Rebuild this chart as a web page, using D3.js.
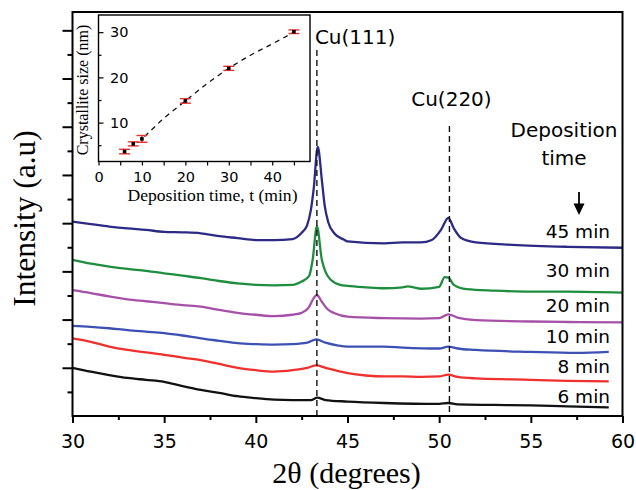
<!DOCTYPE html>
<html>
<head>
<meta charset="utf-8">
<script src="https://cdn.jsdelivr.net/npm/d3@7"></script>
<style>
  body { margin: 0; background: #fff; }
  svg { display: block; }
</style>
</head>
<body>
<svg id="chart"></svg>
<script>
// XRD patterns, [2theta (deg), intensity (a.u.)]
const xrd6 = [[30,1.00],[31,0.92],[32,0.85],[33,0.79],[34,0.75],[35,0.71],[36,0.62],[37,0.54],[38,0.48],[39,0.41],[40,0.37],[41,0.34],[42,0.33],[43,0.33],[43.35,0.38],[43.8,0.33],[45,0.30],[47,0.27],[50,0.25],[50.5,0.27],[51,0.24],[53,0.23],[55,0.22],[57,0.20],[59.25,0.18]]
const xrd8 = [[30,1.61],[31,1.54],[32,1.44],[33,1.37],[34,1.32],[35,1.27],[36,1.21],[37,1.16],[38,1.08],[39,1.00],[40,0.95],[41,0.92],[42,0.95],[42.8,1.00],[43.3,1.05],[43.8,1.00],[44.5,0.93],[45,0.89],[46,0.84],[47,0.82],[48,0.82],[49,0.81],[50,0.82],[50.5,0.86],[51,0.81],[52,0.78],[54,0.76],[55,0.75],[57,0.73],[59.25,0.72]]
const xrd10 = [[30,1.87],[31,1.85],[32,1.82],[33,1.78],[34,1.75],[35,1.72],[36,1.67],[37,1.61],[38,1.56],[39,1.51],[40,1.49],[41,1.48],[42,1.49],[42.8,1.52],[43.3,1.59],[43.8,1.52],[44.5,1.46],[45,1.44],[47,1.44],[48,1.42],[50,1.40],[50.5,1.44],[51,1.40],[52,1.37],[55,1.33],[57.5,1.31],[59.25,1.33]]
const xrd20 = [[30,2.61],[31,2.55],[32,2.48],[33,2.42],[34,2.38],[35,2.34],[36,2.30],[37,2.27],[38,2.20],[39,2.14],[40,2.10],[41,2.07],[42,2.10],[42.5,2.14],[42.9,2.26],[43.1,2.41],[43.33,2.51],[43.6,2.37],[43.9,2.22],[44.3,2.13],[45,2.06],[47,2.03],[49,2.02],[50,2.03],[50.5,2.11],[51,2.04],[52,1.99],[55,1.96],[57,1.95],[60,1.94]]
const xrd30 = [[30,3.24],[31,3.16],[32,3.10],[33,3.05],[34,3.01],[35,2.96],[36,2.91],[37,2.86],[38,2.80],[39,2.75],[40,2.72],[41,2.71],[42,2.72],[42.5,2.79],[42.9,2.90],[43.1,3.24],[43.33,3.94],[43.6,3.24],[43.8,2.99],[44.1,2.82],[44.6,2.72],[45,2.70],[46,2.67],[47,2.65],[48,2.67],[48.3,2.69],[48.6,2.67],[49,2.64],[50,2.68],[50.3,2.88],[50.5,2.87],[50.8,2.72],[51.5,2.63],[53,2.60],[55,2.58],[57,2.58],[60,2.56]]
const xrd45 = [[30,4.03],[31,3.98],[32,3.93],[33,3.89],[34,3.86],[35,3.82],[36,3.81],[37,3.79],[38,3.73],[39,3.69],[40,3.65],[41,3.65],[42,3.67],[42.5,3.80],[42.8,3.96],[43.0,4.27],[43.15,4.69],[43.38,5.58],[43.6,4.90],[43.75,4.38],[43.95,4.02],[44.3,3.78],[44.8,3.66],[45,3.62],[47,3.58],[48,3.60],[49,3.60],[49.6,3.65],[50.1,3.86],[50.5,4.11],[50.8,3.89],[51.2,3.69],[52,3.60],[54,3.55],[57,3.51],[60,3.49]]

const seriesData = [xrd6, xrd8, xrd10, xrd20, xrd30, xrd45]
const seriesNames = ['6 min', '8 min', '10 min', '20 min', '30 min', '45 min']
const seriesColors = ['#111111', '#f0302c', '#3d50b4', '#a650a8', '#1e8e3e', '#2c2a84']

// reflections
const peakNames = ['Cu(111)', 'Cu(220)']
const peakPos = [43.33, 50.56]

// inset: crystallite size vs deposition time
const depTime = [6, 8, 10, 20, 30, 45]
const crystSize = [3.6, 5.3, 6.4, 14.8, 22.0, 30.1]
const crystErr = [0.5, 0.45, 0.75, 0.5, 0.45, 0.4]
const fitTime = [10.6, 15, 20, 25, 30, 35, 40, 45]
const fitSize = [6.9, 10.9, 14.8, 18.6, 22.0, 24.9, 27.4, 30.0]

const xMajor = [30, 35, 40, 45, 50, 55, 60]
const xMinor = [32.5, 37.5, 42.5, 47.5, 52.5, 57.5]
const yMajor = [1, 2, 3, 4, 5, 6, 7, 8]
const yMinor = [0.5, 1.5, 2.5, 3.5, 4.5, 5.5, 6.5, 7.5]
const insetXMajor = [0, 10, 20, 30, 40]
const insetXMinor = [5, 15, 25, 35, 45]
const insetYMajor = [10, 20, 30]
const insetYMinor = [5, 15, 25]

// layout
const width = 636, height = 490
const m = { left: 72.5, right: 622.5, top: 12, bottom: 416 }
const labelBaselines = [403.3, 373.3, 343.3, 311.7, 276.7, 238.3]
const peakLineTops = [50, 126]
const inset = { left: 98.5, right: 310, top: 15, bottom: 161.5 }

const sans = 'DejaVu Sans, sans-serif'
const serif = 'Liberation Serif, Times New Roman, serif'

let svg = d3.select('#chart').attr('width', width).attr('height', height)

let x = d3.scaleLinear().domain([30, 60]).range([m.left, m.right])
let y = d3.scaleLinear().domain([0, 8.38]).range([m.bottom, m.top])

// axes (ticks only, frame drawn separately)
const styleAxis = (g) => {
    g.select('.domain').remove()
    g.selectAll('line').attr('stroke', '#000').attr('stroke-width', 2)
    g.selectAll('text').attr('font-family', sans).attr('fill', '#000')
}

svg.append('g')
    .attr('transform', `translate(0,${m.bottom})`)
    .call(d3.axisBottom(x).tickValues(xMajor).tickSize(7).tickPadding(12).tickFormat(d3.format('d')))
    .call(styleAxis)
    .selectAll('text').attr('font-size', 19)

svg.append('g')
    .attr('transform', `translate(0,${m.bottom})`)
    .call(d3.axisBottom(x).tickValues(xMinor).tickSize(4).tickFormat(''))
    .call(styleAxis)

svg.append('g')
    .attr('transform', `translate(${m.left},0)`)
    .call(d3.axisLeft(y).tickValues(yMajor).tickSize(10).tickFormat(''))
    .call(styleAxis)

svg.append('g')
    .attr('transform', `translate(${m.left},0)`)
    .call(d3.axisLeft(y).tickValues(yMinor).tickSize(5).tickFormat(''))
    .call(styleAxis)

// XRD traces
let line = d3.line()
    .x(d => x(d[0]))
    .y(d => y(d[1]))
    .curve(d3.curveMonotoneX)

svg.append('g').selectAll('path')
    .data(seriesData)
    .enter().append('path')
    .attr('d', line)
    .attr('fill', 'none')
    .attr('stroke', (d, i) => seriesColors[i])
    .attr('stroke-width', 2.3)
    .attr('stroke-linejoin', 'round')

svg.append('g').selectAll('text')
    .data(seriesNames)
    .enter().append('text')
    .attr('x', 610)
    .attr('y', (d, i) => labelBaselines[i])
    .attr('text-anchor', 'end')
    .attr('font-family', sans)
    .attr('font-size', 18.5)
    .text(d => d)

// reflection markers
peakPos.forEach((p, i) => {
    svg.append('line')
        .attr('x1', x(p)).attr('x2', x(p))
        .attr('y1', peakLineTops[i]).attr('y2', m.bottom)
        .attr('stroke', '#111')
        .attr('stroke-width', 1.4)
        .attr('stroke-dasharray', '6,4')
})
svg.append('text')
    .attr('x', x(peakPos[0]) - 2).attr('y', 44)
    .attr('font-family', sans).attr('font-size', 20)
    .text(peakNames[0])
svg.append('text')
    .attr('x', x(peakPos[1]) + 2).attr('y', 106)
    .attr('text-anchor', 'middle')
    .attr('font-family', sans).attr('font-size', 20)
    .text(peakNames[1])

// "Deposition time" with arrow
svg.append('text')
    .attr('x', 564).attr('y', 137.3)
    .attr('text-anchor', 'middle')
    .attr('font-family', sans).attr('font-size', 20)
    .text('Deposition')
svg.append('text')
    .attr('x', 564).attr('y', 165)
    .attr('text-anchor', 'middle')
    .attr('font-family', sans).attr('font-size', 20)
    .text('time')
svg.append('line')
    .attr('x1', 579).attr('x2', 579).attr('y1', 192).attr('y2', 205)
    .attr('stroke', '#000').attr('stroke-width', 1.8)
svg.append('path')
    .attr('d', 'M573.5,203.5 L584.5,203.5 L579,215 Z')
    .attr('fill', '#000')

// frame
svg.append('rect')
    .attr('x', m.left).attr('y', m.top)
    .attr('width', m.right - m.left).attr('height', m.bottom - m.top)
    .attr('fill', 'none').attr('stroke', '#000').attr('stroke-width', 2)

// axis titles
svg.append('text')
    .attr('x', (m.left + m.right) / 2 - 1).attr('y', 483)
    .attr('text-anchor', 'middle')
    .attr('font-family', serif).attr('font-size', 30)
    .text('2θ (degrees)')
svg.append('text')
    .attr('transform', 'translate(35,218.5) rotate(-90)')
    .attr('text-anchor', 'middle')
    .attr('font-family', serif).attr('font-size', 31.5)
    .text('Intensity (a.u)')

// ---- inset ----
let ix = d3.scaleLinear().domain([0, 48.7]).range([inset.left, inset.right])
let iy = d3.scaleLinear().domain([1.4, 33.8]).range([inset.bottom, inset.top])

let ig = svg.append('g')
ig.append('rect')
    .attr('x', inset.left).attr('y', inset.top)
    .attr('width', inset.right - inset.left).attr('height', inset.bottom - inset.top)
    .attr('fill', '#fff')

const styleInsetAxis = (g) => {
    g.select('.domain').remove()
    g.selectAll('line').attr('stroke', '#000').attr('stroke-width', 1.2)
    g.selectAll('text').attr('font-family', sans).attr('font-size', 14.5).attr('fill', '#000')
}

ig.append('g')
    .attr('transform', `translate(0,${inset.bottom})`)
    .call(d3.axisBottom(ix).tickValues(insetXMajor).tickSize(4).tickPadding(6))
    .call(styleInsetAxis)
ig.append('g')
    .attr('transform', `translate(0,${inset.bottom})`)
    .call(d3.axisBottom(ix).tickValues(insetXMinor).tickSize(4).tickFormat(''))
    .call(styleInsetAxis)
ig.append('g')
    .attr('transform', `translate(${inset.left},0)`)
    .call(d3.axisRight(iy).tickValues(insetYMajor).tickSize(5).tickPadding(6.5))
    .call(styleInsetAxis)
ig.append('g')
    .attr('transform', `translate(${inset.left},0)`)
    .call(d3.axisRight(iy).tickValues(insetYMinor).tickSize(3).tickFormat(''))
    .call(styleInsetAxis)

ig.append('rect')
    .attr('x', inset.left).attr('y', inset.top)
    .attr('width', inset.right - inset.left).attr('height', inset.bottom - inset.top)
    .attr('fill', 'none').attr('stroke', '#000').attr('stroke-width', 1.4)

// fitted trend
let fitLine = d3.line()
    .x((d, i) => ix(fitTime[i]))
    .y(d => iy(d))
    .curve(d3.curveMonotoneX)
ig.append('path')
    .attr('d', fitLine(fitSize))
    .attr('fill', 'none')
    .attr('stroke', '#111')
    .attr('stroke-width', 1.3)
    .attr('stroke-dasharray', '5,4.5')

// error bars
let eb = ig.append('g').attr('stroke', '#e8322e').attr('stroke-width', 1.4)
depTime.forEach((t, i) => {
    let cx = ix(t), y0 = iy(crystSize[i] - crystErr[i]), y1 = iy(crystSize[i] + crystErr[i])
    eb.append('line').attr('x1', cx).attr('x2', cx).attr('y1', y0).attr('y2', y1)
    eb.append('line').attr('x1', cx - 5.5).attr('x2', cx + 5.5).attr('y1', y0).attr('y2', y0)
    eb.append('line').attr('x1', cx - 5.5).attr('x2', cx + 5.5).attr('y1', y1).attr('y2', y1)
})

ig.append('g').selectAll('rect')
    .data(depTime)
    .enter().append('rect')
    .attr('x', d => ix(d) - 1.8)
    .attr('y', (d, i) => iy(crystSize[i]) - 1.8)
    .attr('width', 3.6).attr('height', 3.6)
    .attr('fill', '#000')

ig.append('text')
    .attr('x', 212.5).attr('y', 200.5)
    .attr('text-anchor', 'middle')
    .attr('font-family', serif).attr('font-size', 17)
    .attr('textLength', 170).attr('lengthAdjust', 'spacingAndGlyphs')
    .text('Deposition time, t (min)')
ig.append('text')
    .attr('transform', 'translate(88,90) rotate(-90)')
    .attr('text-anchor', 'middle')
    .attr('font-family', serif).attr('font-size', 16)
    .text('Crystallite size (nm)')
</script>
</body>
</html>
